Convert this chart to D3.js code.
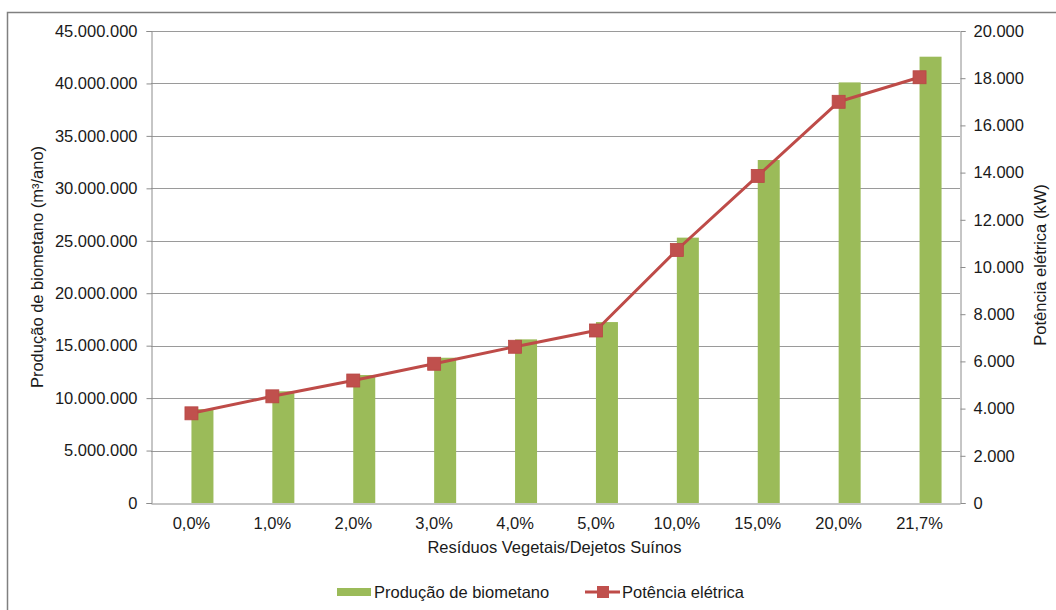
<!DOCTYPE html>
<html>
<head>
<meta charset="utf-8">
<script src="https://cdn.jsdelivr.net/npm/d3@7"></script>
<style>
  html, body { margin: 0; padding: 0; background: #fff; }
  svg { display: block; }
  text { font-family: "Liberation Sans", Arial, sans-serif; fill: #1a1a1a; }
</style>
</head>
<body>
<svg id="chart" width="1056" height="610"></svg>
<script>
const categories = ["0,0%", "1,0%", "2,0%", "3,0%", "4,0%", "5,0%", "10,0%", "15,0%", "20,0%", "21,7%"];
const biomethane = [8950000, 10650000, 12200000, 13850000, 15600000, 17250000, 25300000, 32700000, 40100000, 42550000];
const power = [3800, 4520, 5190, 5900, 6620, 7310, 10720, 13860, 17000, 18040];
const leftTicks = [0, 5000000, 10000000, 15000000, 20000000, 25000000, 30000000, 35000000, 40000000, 45000000];
const rightTicks = [0, 2000, 4000, 6000, 8000, 10000, 12000, 14000, 16000, 18000, 20000];
const seriesNames = ["Produção de biometano", "Potência elétrica"];
const xTitle = "Resíduos Vegetais/Dejetos Suínos";
const yLeftTitle = "Produção de biometano (m³/ano)";
const yRightTitle = "Potência elétrica (kW)";

const green = "#9BBB59", red = "#BE4B48", redFill = "#C0504D";
const gridColor = "#9a9a9a", axisColor = "#8c8c8c";
const fs = "16.5px";

const svg = d3.select("#chart");
const L = 151, R = 960, T = 31, B = 503;

const locale = d3.formatLocale({ decimal: ",", thousands: ".", grouping: [3], currency: ["", ""] });
const fmt = locale.format(",");

const x = d3.scaleBand().domain(categories).range([L, R]).padding(0);
const yL = d3.scaleLinear().domain([0, 45000000]).range([B, T]);
const yR = d3.scaleLinear().domain([0, 20000]).range([B, T]);

// outer border (only top/left visible)
svg.append("rect").attr("x", 7.5).attr("y", 12.5).attr("width", 1200).attr("height", 800)
  .attr("fill", "none").attr("stroke", "#808080").attr("stroke-width", 1.5);

// gridlines
svg.append("g").selectAll("line").data(leftTicks.slice(1)).join("line")
  .attr("x1", L).attr("x2", R)
  .attr("y1", d => Math.round(yL(d)) + 0.5).attr("y2", d => Math.round(yL(d)) + 0.5)
  .attr("stroke", gridColor).attr("stroke-width", 1);

// left axis
const gL = svg.append("g").attr("transform", `translate(${L + 0.5},0)`)
  .call(d3.axisLeft(yL).tickValues(leftTicks).tickFormat(fmt).tickSize(5).tickPadding(9));
gL.select(".domain").attr("stroke", axisColor);
gL.selectAll(".tick line").attr("stroke", axisColor);
gL.selectAll(".tick text").style("font-size", fs).attr("fill", "#1a1a1a");

// right axis
const gR = svg.append("g").attr("transform", `translate(${R + 0.5},0)`)
  .call(d3.axisRight(yR).tickValues(rightTicks).tickFormat(fmt).tickSize(5).tickPadding(8));
gR.select(".domain").attr("stroke", axisColor);
gR.selectAll(".tick line").attr("stroke", axisColor);
gR.selectAll(".tick text").style("font-size", fs).attr("fill", "#1a1a1a");

// bars
const barW = 22;
svg.append("g").selectAll("rect").data(categories).join("rect")
  .attr("x", (d) => x(d) + x.bandwidth() / 2)
  .attr("width", barW)
  .attr("y", (d, i) => yL(biomethane[i]))
  .attr("height", (d, i) => B - yL(biomethane[i]))
  .attr("fill", green);

// bottom axis
const gB = svg.append("g").attr("transform", `translate(0,${B + 0.5})`)
  .call(d3.axisBottom(x).tickSize(0).tickPadding(14));
gB.select(".domain").attr("stroke", axisColor);
gB.selectAll(".tick text").style("font-size", fs).attr("fill", "#1a1a1a");

// line
const cx = d => x(d) + x.bandwidth() / 2;
const line = d3.line().x((d, i) => cx(categories[i])).y(d => yR(d));
svg.append("path").datum(power).attr("d", line)
  .attr("fill", "none").attr("stroke", red).attr("stroke-width", 3).attr("stroke-linejoin", "round");
const ms = 13;
svg.append("g").selectAll("rect").data(power).join("rect")
  .attr("x", (d, i) => cx(categories[i]) - ms / 2)
  .attr("y", d => yR(d) - ms / 2)
  .attr("width", ms).attr("height", ms)
  .attr("fill", redFill).attr("stroke", "#B84744").attr("stroke-width", 0.8);

// axis titles
svg.append("text").attr("x", (L + R) / 2 - 1).attr("y", 553)
  .attr("text-anchor", "middle").style("font-size", fs).text(xTitle);
svg.append("text").attr("transform", `translate(43,${(T + B) / 2}) rotate(-90)`)
  .attr("text-anchor", "middle").style("font-size", fs).text(yLeftTitle);
svg.append("text").attr("transform", `translate(1046,${(T + B) / 2 - 2}) rotate(-90)`)
  .attr("text-anchor", "middle").style("font-size", fs).text(yRightTitle);

// legend
const lg = svg.append("g");
lg.append("rect").attr("x", 337).attr("y", 588).attr("width", 34).attr("height", 8).attr("fill", green);
lg.append("text").attr("x", 374).attr("y", 598).style("font-size", fs).text(seriesNames[0]);
lg.append("line").attr("x1", 585).attr("x2", 620).attr("y1", 592).attr("y2", 592)
  .attr("stroke", red).attr("stroke-width", 3);
lg.append("rect").attr("x", 597).attr("y", 586).attr("width", 12).attr("height", 12)
  .attr("fill", redFill);
lg.append("text").attr("x", 622).attr("y", 598).style("font-size", fs).text(seriesNames[1]);
</script>
</body>
</html>
